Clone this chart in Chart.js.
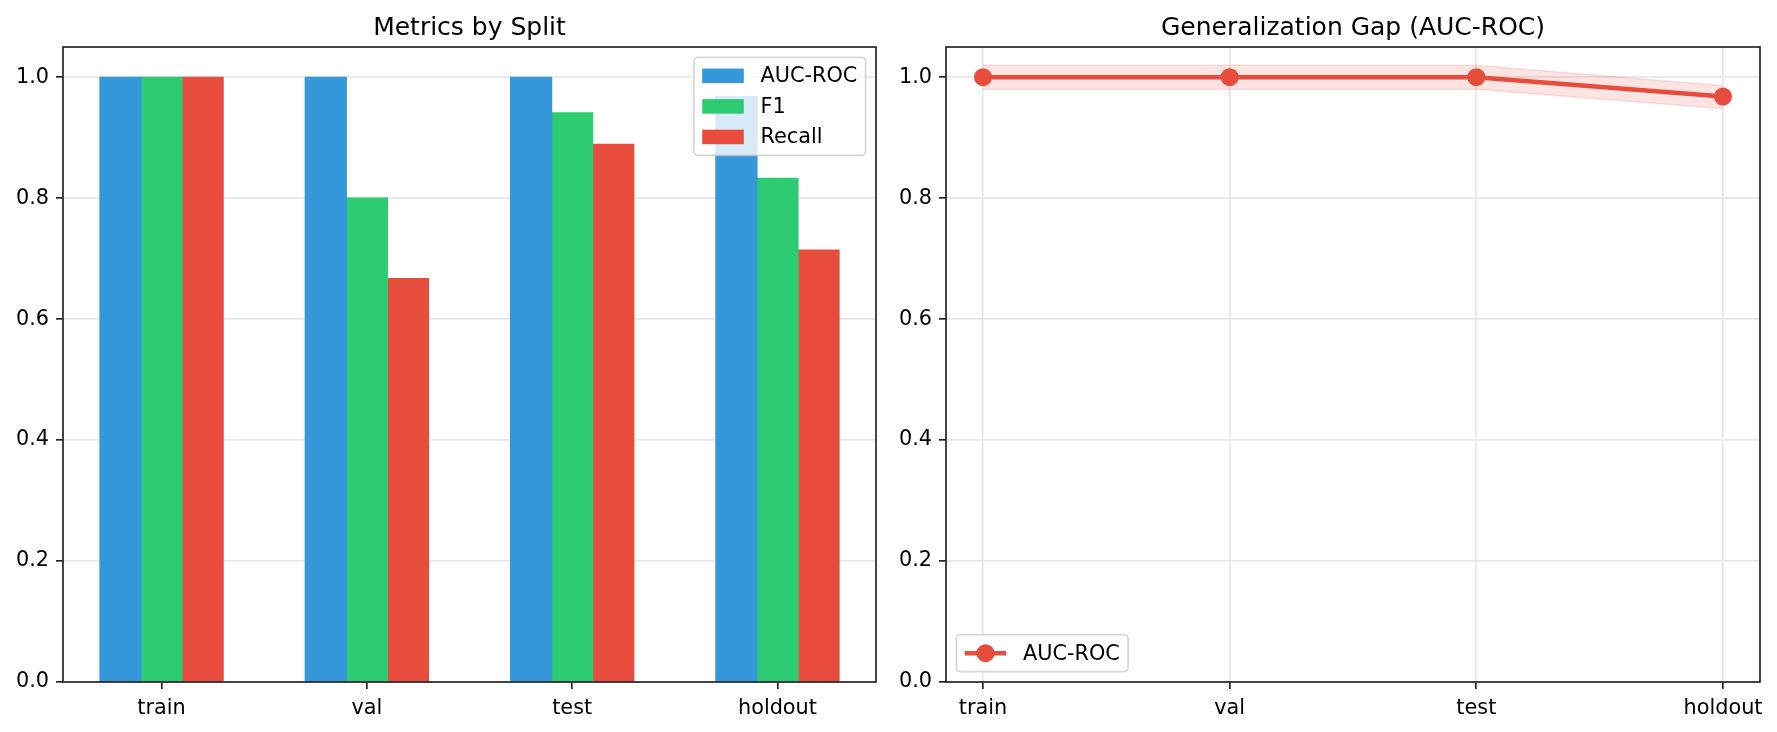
<!DOCTYPE html>
<html>
<head>
<meta charset="utf-8">
<title>Metrics by Split</title>
<script src="https://cdn.jsdelivr.net/npm/chart.js@4.4.1/dist/chart.umd.min.js"></script>
<style>
  body { margin: 0; background: #fff; width: 1777px; height: 732px; overflow: hidden; position: relative; }
  canvas { position: absolute; top: 0; }
</style>
</head>
<body>
<canvas id="split-chart" width="900" height="732" style="left:0"></canvas>
<canvas id="gap-chart" width="887" height="732" style="left:890px"></canvas>
<script>
const splits = ['train', 'val', 'test', 'holdout'];
const yTicks = [0, 0.2, 0.4, 0.6, 0.8, 1.0];
const aucRoc = [1.0, 1.0, 1.0, 0.968];
const f1Score = [1.0, 0.8, 0.941, 0.833];
const recall = [1.0, 0.667, 0.889, 0.714];
const gapUpper = [1.02, 1.02, 1.02, 0.986];
const gapLower = [0.98, 0.98, 0.98, 0.948];

const FONT = '"DejaVu Sans", sans-serif';
const EM = 20.8;
const INK = '#222';
const GRID = '#e7e7e7';
const BLUE = '#3498db';
const GREEN = '#2ecc71';
const RED = '#e74c3c';

Chart.defaults.font.family = FONT;
Chart.defaults.font.size = EM;
Chart.defaults.color = '#000';

const points = (values) => values.map((y, x) => ({ x, y }));

// full box round the plot, like matplotlib spines
const frame = {
  id: 'frame',
  afterDraw(chart) {
    const { ctx, chartArea: a } = chart;
    ctx.save();
    ctx.strokeStyle = INK;
    ctx.lineWidth = 1.67;
    ctx.strokeRect(a.left, a.top, a.right - a.left, a.bottom - a.top);
    ctx.restore();
  },
};

const panelTitle = {
  id: 'panelTitle',
  afterDraw(chart, args, opts) {
    const { ctx, chartArea: a } = chart;
    ctx.save();
    ctx.font = `25px ${FONT}`;
    ctx.fillStyle = '#000';
    ctx.textAlign = 'center';
    ctx.textBaseline = 'alphabetic';
    ctx.fillText(opts.text, (a.left + a.right) / 2, a.top - 12.5);
    ctx.restore();
  },
};

const boxLegend = {
  id: 'boxLegend',
  afterDraw(chart, args, opts) {
    const { ctx, chartArea: a } = chart;
    const isLine = chart.config.type === 'line';
    const items = chart.data.datasets.filter((d) => d.label)
      .map((d) => ({ label: d.label, color: isLine ? d.borderColor : d.backgroundColor }));
    ctx.save();
    ctx.font = `${EM}px ${FONT}`;
    const textW = Math.max(...items.map((it) => ctx.measureText(it.label).width));
    const pad = 0.4 * EM, handle = 2 * EM, gap = 0.8 * EM, rowH = 0.97 * EM, spacing = 0.5 * EM;
    const w = pad * 2 + handle + gap + textW;
    const h = pad * 2 + items.length * rowH + (items.length - 1) * spacing;
    const upper = opts.corner === 'upper right';
    const x = upper ? a.right - 0.5 * EM - w : a.left + 0.5 * EM;
    const y = upper ? a.top + 0.5 * EM : a.bottom - 0.5 * EM - h;

    ctx.beginPath();
    ctx.roundRect(x, y, w, h, 4);
    ctx.fillStyle = 'rgba(255,255,255,0.8)';
    ctx.fill();
    ctx.strokeStyle = 'rgba(204,204,204,0.8)';
    ctx.lineWidth = 1.67;
    ctx.stroke();

    items.forEach((it, i) => {
      const cy = y + pad + rowH / 2 + i * (rowH + spacing);
      const hx = x + pad;
      if (isLine) {
        ctx.strokeStyle = it.color;
        ctx.lineWidth = 4.5;
        ctx.beginPath();
        ctx.moveTo(hx, cy);
        ctx.lineTo(hx + handle, cy);
        ctx.stroke();
        ctx.fillStyle = it.color;
        ctx.beginPath();
        ctx.arc(hx + handle / 2, cy, 9, 0, Math.PI * 2);
        ctx.fill();
      } else {
        ctx.fillStyle = it.color;
        ctx.fillRect(hx, cy - 0.35 * EM, handle, 0.7 * EM);
      }
      ctx.fillStyle = '#000';
      ctx.textAlign = 'left';
      ctx.textBaseline = 'middle';
      ctx.fillText(it.label, hx + handle + gap, cy + 1);
    });
    ctx.restore();
  },
};

function yAxis(width) {
  return {
    min: 0,
    max: 1.05,
    afterBuildTicks: (scale) => { scale.ticks = yTicks.map((value) => ({ value })); },
    afterFit: (scale) => { scale.width = width; },
    ticks: { callback: (v) => v.toFixed(1), padding: 7 },
    grid: { color: GRID, lineWidth: 1.67, tickColor: INK, tickLength: 7, tickWidth: 1.67 },
    border: { display: false },
  };
}

function xAxis(min, max, showGrid) {
  return {
    type: 'linear',
    min,
    max,
    offset: false,
    afterBuildTicks: (scale) => { scale.ticks = splits.map((_, value) => ({ value })); },
    afterFit: (scale) => { scale.height = 50; },
    ticks: { callback: (v) => splits[v], padding: 7, maxRotation: 0, autoSkip: false },
    grid: {
      offset: false, drawOnChartArea: showGrid, color: GRID, lineWidth: 1.67,
      tickColor: INK, tickLength: 7, tickWidth: 1.67,
    },
    border: { display: false },
  };
}

new Chart(document.getElementById('split-chart'), {
  type: 'bar',
  data: {
    datasets: [
      { label: 'AUC-ROC', data: points(aucRoc), backgroundColor: BLUE },
      { label: 'F1', data: points(f1Score), backgroundColor: GREEN },
      { label: 'Recall', data: points(recall), backgroundColor: RED },
    ],
  },
  options: {
    responsive: false,
    devicePixelRatio: 1,
    animation: false,
    events: [],
    datasets: { bar: { categoryPercentage: 0.6, barPercentage: 1.0, borderWidth: 0, inflateAmount: 0.6 } },
    layout: { padding: { left: 0, right: 24, top: 47, bottom: 0 } },
    scales: { x: xAxis(-0.48, 3.48, false), y: yAxis(63) },
    plugins: {
      legend: { display: false },
      tooltip: { enabled: false },
      panelTitle: { text: 'Metrics by Split' },
      boxLegend: { corner: 'upper right' },
    },
  },
  plugins: [frame, panelTitle, boxLegend],
});

new Chart(document.getElementById('gap-chart'), {
  type: 'line',
  data: {
    datasets: [
      {
        label: 'AUC-ROC', data: points(aucRoc), borderColor: RED, borderWidth: 4.5,
        pointRadius: 9, pointBackgroundColor: RED, pointBorderWidth: 0, tension: 0, fill: false,
      },
      {
        label: '', data: points(gapUpper), borderColor: 'rgba(231,76,60,0.15)', borderWidth: 1.5,
        backgroundColor: 'rgba(231,76,60,0.15)', pointRadius: 0, fill: '+1',
      },
      {
        label: '', data: points(gapLower), borderColor: 'rgba(231,76,60,0.15)', borderWidth: 1.5,
        pointRadius: 0, fill: false,
      },
    ],
  },
  options: {
    responsive: false,
    devicePixelRatio: 1,
    animation: false,
    events: [],
    layout: { padding: { left: 0, right: 17, top: 47, bottom: 0 } },
    scales: { x: xAxis(-0.15, 3.15, true), y: yAxis(56) },
    plugins: {
      legend: { display: false },
      tooltip: { enabled: false },
      panelTitle: { text: 'Generalization Gap (AUC-ROC)' },
      boxLegend: { corner: 'lower left' },
    },
  },
  plugins: [frame, panelTitle, boxLegend],
});
</script>
</body>
</html>
